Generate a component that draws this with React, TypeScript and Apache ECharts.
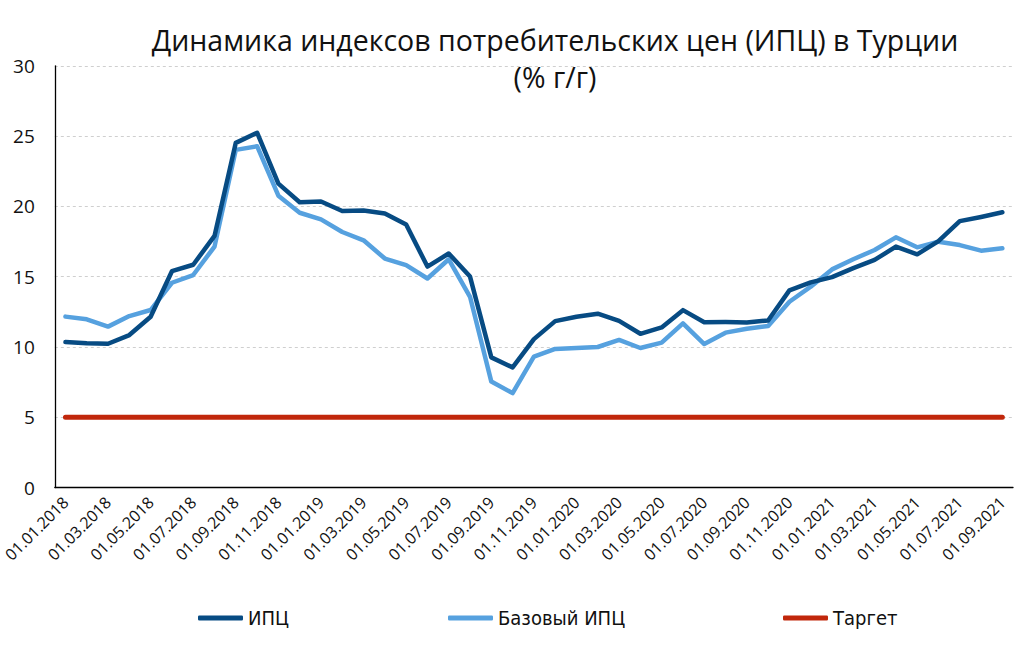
import React, { useEffect, useRef } from "react";
import * as echarts from "echarts";

const dates = [
  "01.01.2018","01.02.2018","01.03.2018","01.04.2018","01.05.2018","01.06.2018","01.07.2018","01.08.2018","01.09.2018","01.10.2018","01.11.2018","01.12.2018",
  "01.01.2019","01.02.2019","01.03.2019","01.04.2019","01.05.2019","01.06.2019","01.07.2019","01.08.2019","01.09.2019","01.10.2019","01.11.2019","01.12.2019",
  "01.01.2020","01.02.2020","01.03.2020","01.04.2020","01.05.2020","01.06.2020","01.07.2020","01.08.2020","01.09.2020","01.10.2020","01.11.2020","01.12.2020",
  "01.01.2021","01.02.2021","01.03.2021","01.04.2021","01.05.2021","01.06.2021","01.07.2021","01.08.2021","01.09.2021",
];

const cpi = [
  10.35, 10.26, 10.23, 10.85, 12.15, 15.39, 15.85, 17.9, 24.52, 25.24, 21.62, 20.3,
  20.35, 19.67, 19.71, 19.5, 18.71, 15.72, 16.65, 15.01, 9.26, 8.55, 10.56, 11.84,
  12.15, 12.37, 11.86, 10.94, 11.39, 12.62, 11.76, 11.77, 11.75, 11.89, 14.03, 14.6,
  14.97, 15.61, 16.19, 17.14, 16.59, 17.53, 18.95, 19.25, 19.58,
];

const coreCpi = [
  12.16, 11.97, 11.45, 12.2, 12.63, 14.57, 15.12, 17.14, 24.02, 24.28, 20.76, 19.55,
  19.08, 18.18, 17.59, 16.29, 15.82, 14.87, 16.24, 13.57, 7.54, 6.72, 9.31, 9.86,
  9.93, 10.0, 10.5, 9.93, 10.31, 11.68, 10.21, 11.02, 11.3, 11.49, 13.22, 14.29,
  15.52, 16.24, 16.9, 17.8, 17.09, 17.49, 17.25, 16.85, 17.02,
];

const target = [
  5, 5, 5, 5, 5, 5, 5, 5, 5, 5, 5, 5,
  5, 5, 5, 5, 5, 5, 5, 5, 5, 5, 5, 5,
  5, 5, 5, 5, 5, 5, 5, 5, 5, 5, 5, 5,
  5, 5, 5, 5, 5, 5, 5, 5, 5,
];

const seriesNames = ["ИПЦ", "Базовый ИПЦ", "Таргет"];
const titleLines = ["Динамика индексов потребительских цен (ИПЦ) в Турции", "(% г/г)"];

const COLORS = ["#074B83", "#56A1DF", "#C1270B"];
const FONT = "'Open Sans', 'Noto Sans', sans-serif";
const LEGEND_FONT = "'Liberation Sans Narrow', 'DejaVu Sans Condensed', 'Roboto', sans-serif";

export default function App() {
  const ref = useRef<HTMLDivElement>(null);

  useEffect(() => {
    if (!ref.current) return;
    const chart = echarts.init(ref.current, undefined, { renderer: "svg" });
    const legendLefts = [193, 443, 778];
    chart.setOption({
      animation: false,
      backgroundColor: "#ffffff",
      textStyle: { fontFamily: FONT },
      graphic: [
        {
          type: "text",
          x: 555,
          y: 40,
          style: {
            text: titleLines[0],
            fontFamily: FONT,
            fontSize: 28.5,
            fill: "#111111",
            align: "center",
            verticalAlign: "middle",
          },
        },
        {
          type: "text",
          x: 555,
          y: 77,
          style: {
            text: titleLines[1],
            fontFamily: FONT,
            fontSize: 28.5,
            fill: "#111111",
            align: "center",
            verticalAlign: "middle",
          },
        },
      ],
      legend: seriesNames.map((n, i) => ({
        data: [n],
        left: legendLefts[i],
        top: 603,
        icon: "roundRect",
        itemWidth: 45,
        itemHeight: 5,
        itemGap: 4,
        textStyle: {
          fontFamily: LEGEND_FONT,
          fontSize: 20,
          color: "#111111",
        },
      })),
      grid: { left: 53, right: 23, top: 65.8, bottom: 157.4, containLabel: false },
      xAxis: {
        type: "category",
        data: dates,
        boundaryGap: true,
        axisLine: { show: true, lineStyle: { color: "#000000", width: 1.3 } },
        axisTick: { show: false },
        axisLabel: {
          interval: 1,
          rotate: 45,
          fontFamily: FONT,
          fontSize: 16,
          color: "#111111",
          margin: 12,
        },
        splitLine: { show: false },
      },
      yAxis: {
        type: "value",
        min: 0,
        max: 30,
        interval: 5,
        axisLine: { show: true, lineStyle: { color: "#000000", width: 1.3 } },
        axisTick: { show: false },
        axisLabel: {
          fontFamily: FONT,
          fontSize: 19,
          color: "#111111",
          margin: 20,
        },
        splitLine: {
          show: true,
          lineStyle: { color: "#cfcfcf", type: [3, 3], width: 1 },
        },
      },
      series: [
        {
          name: seriesNames[0],
          type: "line",
          data: cpi,
          symbol: "none",
          lineStyle: { color: COLORS[0], width: 4.5, cap: "round", join: "round" },
          itemStyle: { color: COLORS[0] },
          z: 4,
        },
        {
          name: seriesNames[1],
          type: "line",
          data: coreCpi,
          symbol: "none",
          lineStyle: { color: COLORS[1], width: 4.5, cap: "round", join: "round" },
          itemStyle: { color: COLORS[1] },
          z: 3,
        },
        {
          name: seriesNames[2],
          type: "line",
          data: target,
          symbol: "none",
          lineStyle: { color: COLORS[2], width: 5, cap: "round" },
          itemStyle: { color: COLORS[2] },
          z: 2,
        },
      ],
    });
    return () => chart.dispose();
  }, []);

  return (
    <div
      ref={ref}
      style={{ position: "fixed", left: 0, top: 0, width: 1036, height: 645, background: "#fff" }}
    />
  );
}
